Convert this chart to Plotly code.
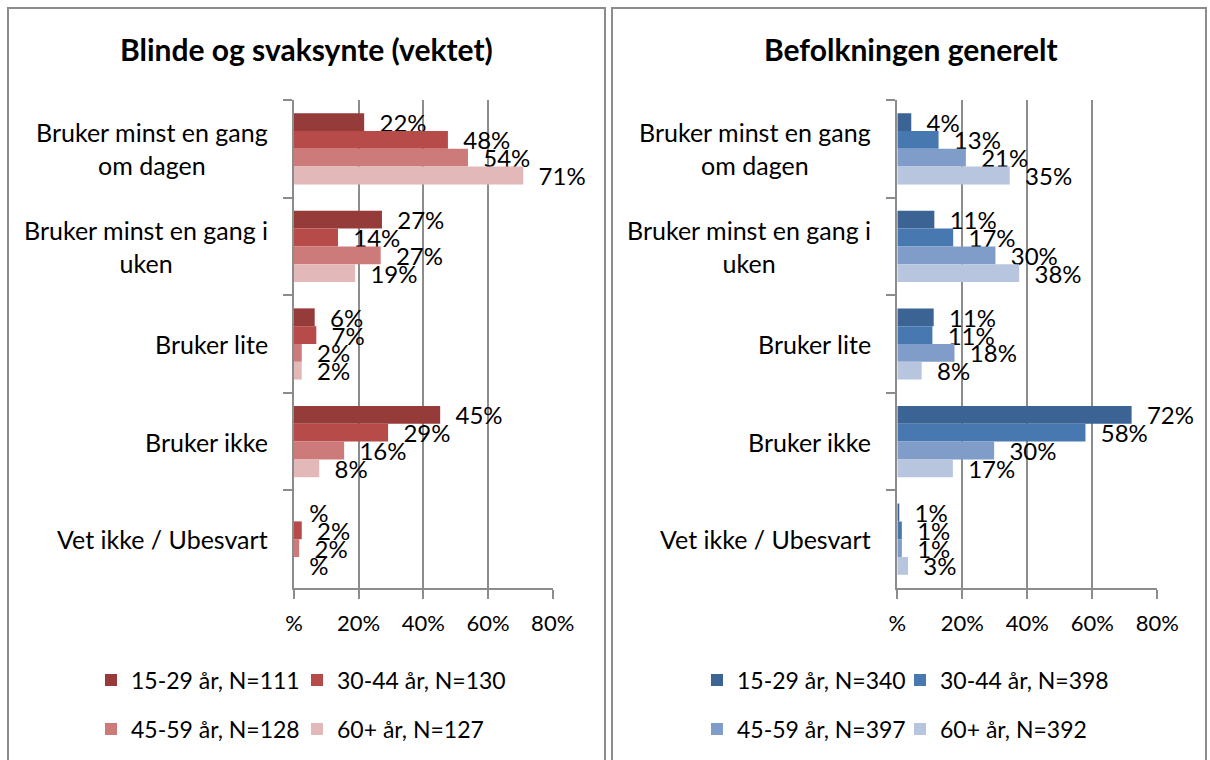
import plotly.graph_objects as go

categories = [
    "Bruker minst en gang<br>om dagen",
    "Bruker minst en gang i<br>uken",
    "Bruker lite",
    "Bruker ikke",
    "Vet ikke / Ubesvart",
]
age_groups = ["15-29 år", "30-44 år", "45-59 år", "60+ år"]

left_title = "Blinde og svaksynte (vektet)"
left_n = [111, 130, 128, 127]
left_values = {
    "15-29 år": [21.7, 27.2, 6.4, 45.2, 0.0],
    "30-44 år": [47.6, 13.6, 6.9, 29.1, 2.4],
    "45-59 år": [53.8, 26.8, 2.4, 15.5, 1.6],
    "60+ år": [70.9, 18.9, 2.4, 7.8, 0.0],
}

right_title = "Befolkningen generelt"
right_n = [340, 398, 397, 392]
right_values = {
    "15-29 år": [4.3, 11.4, 11.2, 72.1, 0.6],
    "30-44 år": [12.7, 17.2, 10.8, 57.9, 1.4],
    "45-59 år": [21.1, 30.2, 17.6, 29.8, 1.4],
    "60+ år": [34.6, 37.5, 7.5, 17.1, 3.3],
}

left_colors = ["#953B3A", "#B74B49", "#CD7B7A", "#E2B8B8"]
right_colors = ["#3B6393", "#4878B0", "#7F9DC8", "#B7C5DF"]

xticks = [0, 20, 40, 60, 80]
xticktext = ["%", "20%", "40%", "60%", "80%"]

W, H = 1210, 760
FONT = "Lato"
GRAY = "#8C8C8C"


def px(x):
    return x / W


def py(y):
    return 1 - y / H


def label(v):
    r = int(round(v))
    return "\u00a0\u00a0" + (f"{r}%" if r else "%")


fig = go.Figure()

# legend placement (pixel left edge, pixel row centre) per trace
leg_pos_left = [(91, 680), (297, 680), (91, 729), (297, 729)]
leg_pos_right = [(697, 680), (900, 680), (697, 729), (900, 729)]

legend_layout = {}
panels = [
    (left_values, left_n, left_colors, "x", "y", leg_pos_left, 0),
    (right_values, right_n, right_colors, "x2", "y2", leg_pos_right, 4),
]
for vals, ns, cols, xa, ya, lpos, off in panels:
    for i, g in enumerate(age_groups):
        k = off + i + 1
        lname = "legend" if k == 1 else f"legend{k}"
        legend_layout[lname] = dict(
            x=px(lpos[i][0]), y=py(lpos[i][1]),
            orientation="h", yanchor="middle", xanchor="left",
            font=dict(family=FONT, size=23, color="black"),
            bgcolor="rgba(0,0,0,0)", borderwidth=0,
            itemclick=False, itemdoubleclick=False,
        )
        fig.add_trace(go.Bar(
            y=categories,
            x=vals[g],
            orientation="h",
            name=f"{g}, N={ns[i]}",
            marker=dict(color=cols[i], line=dict(width=0)),
            text=[label(v) for v in vals[g]],
            textposition="outside",
            constraintext="none",
            cliponaxis=False,
            textfont=dict(family=FONT, size=24, color="black"),
            xaxis=xa,
            yaxis=ya,
            legend=lname,
            hoverinfo="skip",
        ))

ydom = [py(588), py(100)]
xax = dict(
    range=[0, 80], tickvals=xticks, ticktext=xticktext,
    showgrid=True, gridcolor=GRAY, gridwidth=2, zeroline=False,
    showline=True, linecolor=GRAY, linewidth=2,
    ticks="outside", ticklen=9, tickwidth=2, tickcolor=GRAY,
    ticklabelstandoff=6,
    tickfont=dict(family=FONT, size=22, color="black"),
    fixedrange=True, automargin=False,
)
yax = dict(
    type="category", autorange="reversed", showticklabels=False,
    showgrid=False, zeroline=False,
    showline=True, linecolor=GRAY, linewidth=2,
    ticks="outside", tickson="boundaries", ticklen=9, tickwidth=2, tickcolor=GRAY,
    fixedrange=True, automargin=False,
)

fig.update_layout(
    width=W, height=H, autosize=False,
    margin=dict(l=0, r=0, t=0, b=0, pad=0, autoexpand=False),
    paper_bgcolor="white", plot_bgcolor="white",
    barmode="group", bargap=0.27, bargroupgap=0,
    showlegend=True,
    font=dict(family=FONT, size=23, color="black"),
    xaxis=dict(domain=[px(294), px(552.7)], anchor="y", **xax),
    yaxis=dict(domain=ydom, anchor="x", **yax),
    xaxis2=dict(domain=[px(897.3), px(1157.3)], anchor="y2", **xax),
    yaxis2=dict(domain=ydom, anchor="x2", **yax),
    **legend_layout,
)

shapes = [
    dict(type="rect", xref="paper", yref="paper", x0=px(8), x1=px(605), y0=-0.05, y1=py(8),
         line=dict(color=GRAY, width=2), fillcolor="rgba(0,0,0,0)", layer="below"),
    dict(type="rect", xref="paper", yref="paper", x0=px(612), x1=px(1206), y0=-0.05, y1=py(8),
         line=dict(color=GRAY, width=2), fillcolor="rgba(0,0,0,0)", layer="below"),
]
fig.update_layout(shapes=shapes)

annotations = [
    dict(text=f"<b>{left_title}</b>", xref="paper", yref="paper", x=px(306), y=py(49),
         xanchor="center", yanchor="middle", showarrow=False,
         font=dict(family=FONT, size=30, color="black")),
    dict(text=f"<b>{right_title}</b>", xref="paper", yref="paper", x=px(911), y=py(49),
         xanchor="center", yanchor="middle", showarrow=False,
         font=dict(family=FONT, size=30, color="black")),
]
for yref, xr in [("y", 270), ("y2", 873)]:
    for c in categories:
        annotations.append(dict(
            text=c, xref="paper", yref=yref, x=px(xr), y=c,
            xanchor="right", yanchor="middle", align="center", showarrow=False,
            font=dict(family=FONT, size=25, color="black"),
        ))
fig.update_layout(annotations=annotations)

fig.write_html(
    "out.html",
    config={"displayModeBar": False, "responsive": False},
    post_script="document.body.style.margin='0';",
)
